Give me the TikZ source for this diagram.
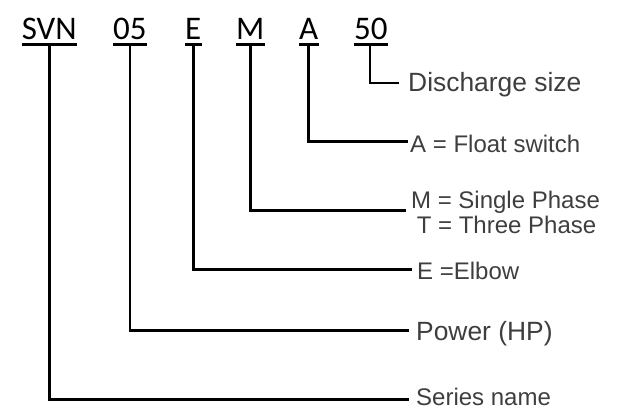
\documentclass[tikz,border=0pt]{standalone}
\usepackage{fontspec}
\setmainfont{Liberation Sans}
\newfontfamily\codefont{Carlito}
\definecolor{txtgray}{RGB}{62,62,62}
\begin{document}
\begin{tikzpicture}[x=1pt,y=-1pt,
  code/.style={inner sep=0pt,anchor=base west,font=\codefont\fontsize{33}{36}\selectfont},
  desc/.style={inner sep=0pt,anchor=base west,text=txtgray,font=\fontsize{24}{26}\selectfont},
  big/.style={font=\fontsize{26.4}{28}\selectfont},
  lead/.style={line width=2.8pt,line cap=rect,line join=miter},
  uline/.style={line width=2.8pt}]
\useasboundingbox (0,0) rectangle (617,409);
% code letters
\node[code] (svn) at (21.6,39.5) {SVN};
\node[code] (pw)  at (113,39.5) {05};
\node[code] (el)  at (185,39.5) {E};
\node[code] (ph)  at (236,39.5) {M};
\node[code] (fs)  at (299,39.5) {A};
\node[code] (ds)  at (354,39.5) {50};
\foreach \n in {svn,pw,el,ph,fs,ds}{
  \draw[uline] ([yshift=-5pt]\n.base west) -- ([yshift=-5pt]\n.base east);
}
% descriptions
\node[desc,big] (dsd) at (408,92) {Discharge size};
\node[desc] (fsd) at (410,152) {A = Float switch};
\node[desc,anchor=base] (phd) at (505.5,208) {M = Single Phase};
\node[desc,anchor=base] (phd2) at (506.5,233) {T = Three Phase};
\node[desc] (eld) at (417,279) {E =Elbow};
\node[desc,big] (pwd) at (416,340) {Power (HP)};
\node[desc] (svnd) at (416,405) {Series name};
% leaders
\draw[lead] ([xshift=16pt,yshift=-6pt]ds.base west) |- ([xshift=-10pt,yshift=9pt]dsd.base west);
\draw[lead] ([yshift=-6pt]fs.base) |- ([xshift=-3pt,yshift=10.3pt]fsd.base west);
\draw[lead] ([yshift=-6pt]ph.base) |- ([xshift=-6pt,yshift=-2.7pt]phd.base west);
\draw[lead] ([yshift=-6pt]el.base) |- ([xshift=-6pt,yshift=9.5pt]eld.base west);
\draw[lead] ([yshift=-6pt]pw.base) |- ([xshift=-8pt,yshift=9.3pt]pwd.base west);
\draw[lead] ([yshift=-6pt]svn.base) |- ([xshift=-8pt,yshift=5.7pt]svnd.base west);
\end{tikzpicture}
\end{document}
